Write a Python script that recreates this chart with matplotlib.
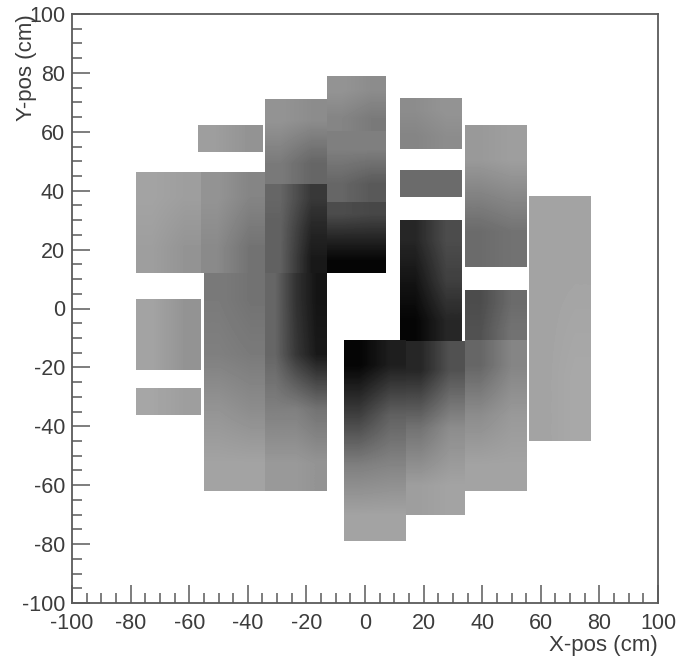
import matplotlib
matplotlib.use("Agg")
import matplotlib.pyplot as plt
from matplotlib.ticker import MultipleLocator

plt.rcParams["font.family"] = ["Liberation Sans", "DejaVu Sans"]
plt.rcParams["axes.unicode_minus"] = False

# Detector blocks (cm), with the mean ink coverage of the
# hit cloud inside each one: rows run top to bottom, columns left to right.
block_x0 = [-78, -56, -57, -34, -13, -13, -34, -13, 12, 12, 12, 34, 34, 56, -78, -78, -55, -34, -7, 14, 34]
block_x1 = [-56, -34, -35, -13, 7, 7, -13, 7, 33, 33, 33, 55, 55, 77, -56, -56, -34, -13, 14, 34, 55]
block_y0 = [12, 12, 53, 42, 60, 36, 12, 12, 54, 38, -11, 14, -12, -45, -21, -36, -62, -62, -79, -70, -62]
block_y1 = [46, 46, 62, 71, 79, 60, 42, 36, 71, 47, 30, 62, 6, 38, 3, -27, 12, 12, -11, -11, -11]
block_density = [
    [[0.36, 0.38], [0.38, 0.42]],
    [[0.42, 0.48], [0.46, 0.55]],
    [[0.38, 0.42], [0.38, 0.42]],
    [[0.42, 0.45], [0.52, 0.60]],
    [[0.42, 0.45], [0.48, 0.52]],
    [[0.50, 0.50], [0.60, 0.65]],
    [[0.60, 0.78], [0.62, 0.85], [0.62, 0.90]],
    [[0.70, 0.72], [0.85, 0.85], [0.98, 0.98]],
    [[0.45, 0.42], [0.48, 0.45]],
    [[0.58, 0.58], [0.58, 0.58]],
    [[0.85, 0.70], [0.92, 0.75], [0.98, 0.85]],
    [[0.40, 0.38], [0.58, 0.55]],
    [[0.70, 0.58], [0.68, 0.55]],
    [[0.36, 0.36], [0.36, 0.34]],
    [[0.36, 0.42], [0.36, 0.42]],
    [[0.35, 0.38], [0.35, 0.38]],
    [[0.52, 0.55], [0.50, 0.52], [0.42, 0.45], [0.36, 0.36]],
    [[0.60, 0.80, 0.92], [0.60, 0.78, 0.90], [0.50, 0.50, 0.55], [0.40, 0.40, 0.42]],
    [[0.98, 0.88], [0.75, 0.62], [0.50, 0.48], [0.36, 0.36]],
    [[0.85, 0.68], [0.55, 0.45], [0.38, 0.36]],
    [[0.60, 0.48], [0.45, 0.40], [0.36, 0.36]],
]

tick_color = "#5a5a5a"
text_color = "#3c3c3c"

fig = plt.figure(figsize=(6.86, 6.56), dpi=100)
ax = fig.add_axes([72 / 686, 1 - 603 / 656, 586 / 686, 589 / 656])

for x0, x1, y0, y1, density in zip(block_x0, block_x1, block_y0, block_y1, block_density):
    ax.imshow(density, extent=(x0, x1, y0, y1), cmap="gray_r", vmin=0, vmax=1,
              interpolation="bilinear", aspect="auto", zorder=1)

ax.set_xlim(-100, 100)
ax.set_ylim(-100, 100)
ax.xaxis.set_major_locator(MultipleLocator(20))
ax.yaxis.set_major_locator(MultipleLocator(20))
ax.xaxis.set_minor_locator(MultipleLocator(5))
ax.yaxis.set_minor_locator(MultipleLocator(5))
ax.tick_params(which="major", direction="in", length=13, width=1.1, color=tick_color,
               labelsize=15.5, labelcolor=text_color)
ax.tick_params(axis="x", which="major", pad=7)
ax.tick_params(axis="y", which="major", pad=5)
ax.tick_params(which="minor", direction="in", length=7, width=1.1, color=tick_color)
for spine in ax.spines.values():
    spine.set_color(tick_color)
    spine.set_linewidth(1.3)

ax.set_xlabel("X-pos (cm)", fontsize=16, color=text_color, loc="right")
ax.xaxis.set_label_coords(1.0, -0.072)
ax.xaxis.label.set_verticalalignment("center")
ax.set_ylabel("Y-pos (cm)", fontsize=16, color=text_color, loc="top")
ax.yaxis.set_label_coords(-0.078, 1.0)
ax.yaxis.label.set_verticalalignment("center")

fig.savefig("out.png", dpi=100)
